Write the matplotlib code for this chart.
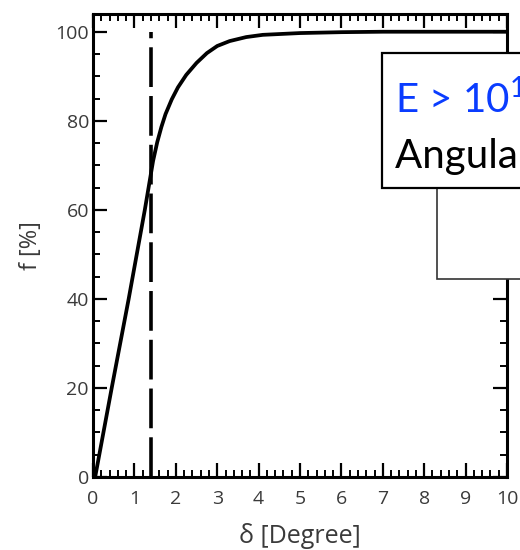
import numpy as np
import matplotlib
matplotlib.use("Agg")
import matplotlib.pyplot as plt
from matplotlib.patches import Rectangle
from matplotlib.ticker import MultipleLocator

# curve
delta = [0.05, 0.45, 0.86, 1.25, 1.35, 1.45, 1.55, 1.65, 1.75, 1.9, 2.05,
         2.25, 2.5, 2.75, 3.0, 3.3, 3.7, 4.1, 5.0, 6.0, 7.0, 8.0, 9.0, 10.0]
frac = [0, 20, 40, 60, 65.5, 71, 75.2, 78.6, 81.5, 84.8, 87.5,
        90.3, 93, 95.2, 96.8, 97.9, 98.8, 99.3, 99.7, 99.9, 100, 100, 100, 100]
cut_delta = 1.4
cut_range = [0, 100]

plt.rcParams['mathtext.fontset'] = 'custom'
plt.rcParams['mathtext.rm'] = 'Lato'

fig = plt.figure(figsize=(5.2, 5.5), dpi=100)
ax = fig.add_axes([0.179, 0.1327, 0.796, 0.842])

ax.plot(delta, frac, color='black', lw=2.7, solid_capstyle='round')
ax.plot([cut_delta, cut_delta], cut_range, color='black', lw=2.6,
        dashes=(11, 2.5))

ax.set_xlim(0, 10)
ax.set_ylim(0, 104)
ax.xaxis.set_major_locator(MultipleLocator(1))
ax.xaxis.set_minor_locator(MultipleLocator(0.2))
ax.yaxis.set_major_locator(MultipleLocator(20))
ax.yaxis.set_minor_locator(MultipleLocator(5))
ax.tick_params(which='both', direction='in', top=True, right=True,
               color='black', labelsize=14, labelcolor='#3a3a3a')
ax.tick_params(which='major', length=10, width=1.6)
ax.tick_params(which='minor', length=5, width=1.4)
ax.tick_params(axis='x', pad=9)
ax.tick_params(axis='y', pad=3)
for lab in ax.get_xticklabels() + ax.get_yticklabels():
    lab.set_family('Open Sans')
for sp in ax.spines.values():
    sp.set_linewidth(2.2)

ax.set_xlabel('δ [Degree]', family='Open Sans', fontsize=18,
              color='#3a3a3a', labelpad=11)
ax.set_ylabel('f [%]', family='Open Sans', fontsize=17,
              color='#3a3a3a', labelpad=9)

# overlaid boxes (cut by the right edge)
fig.patches.append(Rectangle((0.840, 0.4927), 0.3, 0.166,
                             transform=fig.transFigure, facecolor='white',
                             edgecolor='#333333', lw=1.2, zorder=5))
fig.patches.append(Rectangle((0.7346, 0.658), 0.4, 0.2456,
                             transform=fig.transFigure, facecolor='white',
                             edgecolor='black', lw=1.6, zorder=6))
fig.text(0.7596, 0.7945, r'E > 10$^{\mathrm{19}}$ eV', family='Lato',
         fontsize=29, color='#0a3cff', va='baseline', zorder=7)
fig.text(0.7596, 0.6945, 'Angular resolution', family='Lato',
         fontsize=29, color='black', va='baseline', zorder=7)

fig.savefig('out.png', dpi=100, facecolor='white')
